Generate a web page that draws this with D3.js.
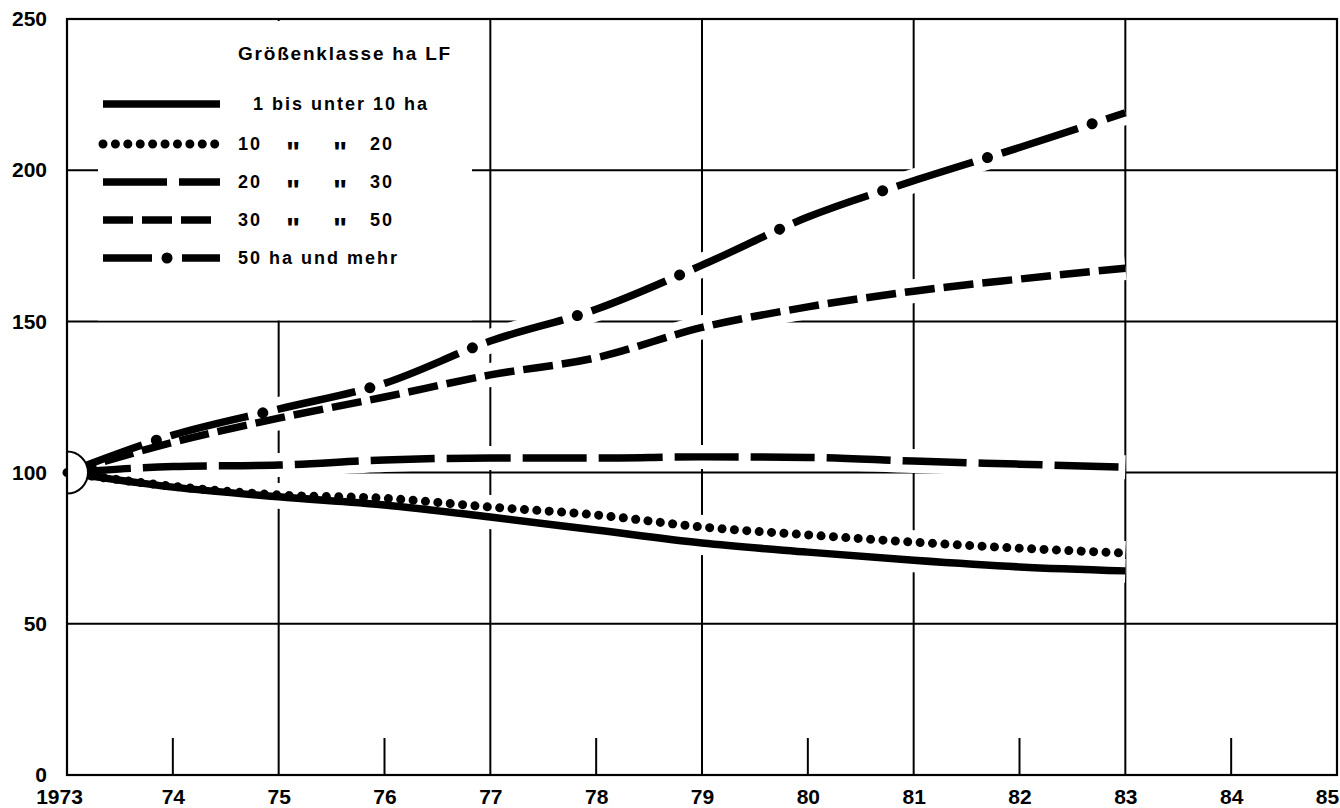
<!DOCTYPE html>
<html>
<head>
<meta charset="utf-8">
<script src="https://cdn.jsdelivr.net/npm/d3@7"></script>
<style>
  body { margin: 0; background: #fff; }
  svg text { font-family: "Liberation Sans", Arial, sans-serif; fill: #000; }
</style>
</head>
<body>
<div class="graph"></div>
<script>
/*---------- DATA ----------*/

// index values, 1973 = 100
const years = [1973, 1974, 1975, 1976, 1977, 1978, 1979, 1980, 1981, 1982, 1983];
const ha1to10 = [100, 95.2, 92.0, 89.3, 85.3, 81.0, 76.7, 73.7, 71.0, 68.8, 67.5];
const ha10to20 = [100, 95.5, 92.6, 91.5, 88.6, 86.0, 82.0, 79.4, 77.0, 75.0, 73.4];
const ha20to30 = [100, 102.0, 102.5, 104.2, 104.8, 104.8, 105.2, 105.0, 103.8, 102.8, 101.8];
const ha30to50 = [100, 110.0, 118.0, 125.0, 132.3, 138.0, 148.0, 154.8, 160.0, 164.0, 167.6];
const ha50plus = [100, 112.4, 121.0, 129.5, 143.5, 154.0, 168.6, 184.5, 196.5, 207.5, 219.0];

const xTicks = [1973, 1974, 1975, 1976, 1977, 1978, 1979, 1980, 1981, 1982, 1983, 1984, 1985];
const yTicks = [0, 50, 100, 150, 200, 250];

const legendTitle = "Größenklasse ha LF";
const ditto = "\"";
const legendLabels = [
    ["1 bis unter 10 ha"],
    ["10", ditto, ditto, "20"],
    ["20", ditto, ditto, "30"],
    ["30", ditto, ditto, "50"],
    ["50 ha und mehr"]
];

/*---------- D3 STUFF ----------*/

const SIZE = {X: 1340, Y: 808};
const PLOT = {LEFT: 67, RIGHT: 1337, TOP: 19, BOTTOM: 775};

const svg = d3.select(".graph").append("svg")
    .attr("width", SIZE.X)
    .attr("height", SIZE.Y);

const x = d3.scaleLinear().domain([1973, 1985]).range([PLOT.LEFT, PLOT.RIGHT]);
const y = d3.scaleLinear().domain([0, 250]).range([PLOT.BOTTOM, PLOT.TOP]);

svg.append("defs").append("clipPath")
    .attr("id", "clip")
    .append("rect")
    .attr("x", PLOT.LEFT).attr("y", PLOT.TOP)
    .attr("width", PLOT.RIGHT - PLOT.LEFT).attr("height", PLOT.BOTTOM - PLOT.TOP);

//line styles per series
const series = [
    {values: ha1to10,  style: [{w: 7.5, dash: null}]},
    {values: ha10to20, style: [{w: 9, dash: "0.01 12.4", cap: "round"}]},
    {values: ha20to30, style: [{w: 7.5, dash: "64 12"}]},
    {values: ha30to50, style: [{w: 7.5, dash: "30 9"}]},
    {values: ha50plus, style: [{w: 7.5, dash: "80 30", off: 0},
                               {w: 11, dash: "0.01 109.99", off: 15, cap: "round"}]}
];

//grid: horizontal lines
const grid = svg.append("g").attr("stroke", "#000").attr("stroke-width", 2);
grid.selectAll(".h").data(yTicks.filter(v => v > 0 && v < 250)).join("line")
    .attr("x1", PLOT.LEFT).attr("x2", PLOT.RIGHT)
    .attr("y1", d => y(d)).attr("y2", d => y(d));

//full vertical lines on odd years, short ticks on even years
grid.selectAll(".v").data(xTicks.filter(t => t % 2 === 1 && t > 1973 && t < 1985)).join("line")
    .attr("x1", d => x(d)).attr("x2", d => x(d))
    .attr("y1", PLOT.TOP).attr("y2", PLOT.BOTTOM);

grid.selectAll(".t").data(xTicks.filter(t => t % 2 === 0)).join("line")
    .attr("x1", d => x(d)).attr("x2", d => x(d))
    .attr("y1", PLOT.BOTTOM).attr("y2", PLOT.BOTTOM - 37);

//white area behind the legend
svg.append("rect")
    .attr("x", 98).attr("y", PLOT.TOP + 2)
    .attr("width", 374).attr("height", y(150) - PLOT.TOP - 3)
    .attr("fill", "#fff");

const line = d3.line()
    .x((d, i) => x(years[i]))
    .y(d => y(d))
    .curve(d3.curveMonotoneX);

//white halo so the grid breaks around the curves
svg.append("g").selectAll("path").data(series).join("path")
    .attr("d", d => line(d.values))
    .attr("fill", "none")
    .attr("stroke", "#fff")
    .attr("stroke-width", 24);

function drawStyled(g, d, pathD, offShift) {
    d.style.forEach(s => {
        g.append("path")
            .attr("d", pathD)
            .attr("fill", "none")
            .attr("stroke", "#000")
            .attr("stroke-width", s.w)
            .attr("stroke-linecap", s.cap || "butt")
            .attr("stroke-dasharray", s.dash)
            .attr("stroke-dashoffset", s.off != null ? s.off + (offShift || 0) : null);
    });
}

const lines = svg.append("g");
series.forEach(d => drawStyled(lines, d, line(d.values)));

//start circle at 1973 = 100
svg.append("circle")
    .attr("clip-path", "url(#clip)")
    .attr("cx", x(1973)).attr("cy", y(100))
    .attr("r", 21)
    .attr("fill", "#fff")
    .attr("stroke", "#000")
    .attr("stroke-width", 2);

//frame
svg.append("rect")
    .attr("x", PLOT.LEFT).attr("y", PLOT.TOP)
    .attr("width", PLOT.RIGHT - PLOT.LEFT).attr("height", PLOT.BOTTOM - PLOT.TOP)
    .attr("fill", "none")
    .attr("stroke", "#000")
    .attr("stroke-width", 2.2);

//axes
const yAxis = svg.append("g")
    .attr("transform", `translate(${PLOT.LEFT},0)`)
    .call(d3.axisLeft(y).tickValues(yTicks).tickSize(0).tickPadding(20));

const xAxis = svg.append("g")
    .attr("transform", `translate(0,${PLOT.BOTTOM})`)
    .call(d3.axisBottom(x).tickValues(xTicks).tickSize(0).tickPadding(14)
        .tickFormat(d => d === 1973 ? "1973" : String(d % 100)));

[xAxis, yAxis].forEach(a => {
    a.select(".domain").remove();
    a.selectAll("text")
        .attr("font-family", null)
        .attr("font-size", 21)
        .attr("font-weight", "bold")
        .attr("fill", "#000");
});
xAxis.selectAll(".tick text").filter(d => d === 1973).attr("dx", -8);
xAxis.selectAll(".tick text").filter(d => d === 1985).attr("dx", -10);

//legend
const legend = svg.append("g");
legend.append("text")
    .attr("x", 238).attr("y", 53)
    .attr("dy", "0.36em")
    .attr("font-size", 19)
    .attr("font-weight", "bold")
    .attr("letter-spacing", 1.8)
    .text(legendTitle);

const rowY = [104, 144, 182, 220, 258];
const dittoX = [238, 286, 333, 370];

series.forEach((d, i) => {
    const g = legend.append("g");
    const sw = d3.line()([[103, rowY[i]], [220, rowY[i]]]);
    //dash-dot swatch starts mid-dash
    drawStyled(g, d, sw, 31);

    const lab = legendLabels[i];
    if (lab.length === 1) {
        g.append("text")
            .attr("x", i === 0 ? 253 : 238).attr("y", rowY[i])
            .attr("dy", "0.36em")
            .attr("font-size", 18)
            .attr("font-weight", "bold")
            .attr("letter-spacing", 2)
            .text(lab[0]);
    } else {
        lab.forEach((t, j) => {
            const isDitto = t === ditto;
            g.append("text")
                .attr("x", dittoX[j]).attr("y", rowY[i])
                .attr("dy", isDitto ? "0.6em" : "0.36em")
                .attr("font-size", isDitto ? 30 : 18)
                .attr("font-weight", "bold")
                .attr("letter-spacing", isDitto ? 0 : 2)
                .text(t);
        });
    }
});
</script>
</body>
</html>
